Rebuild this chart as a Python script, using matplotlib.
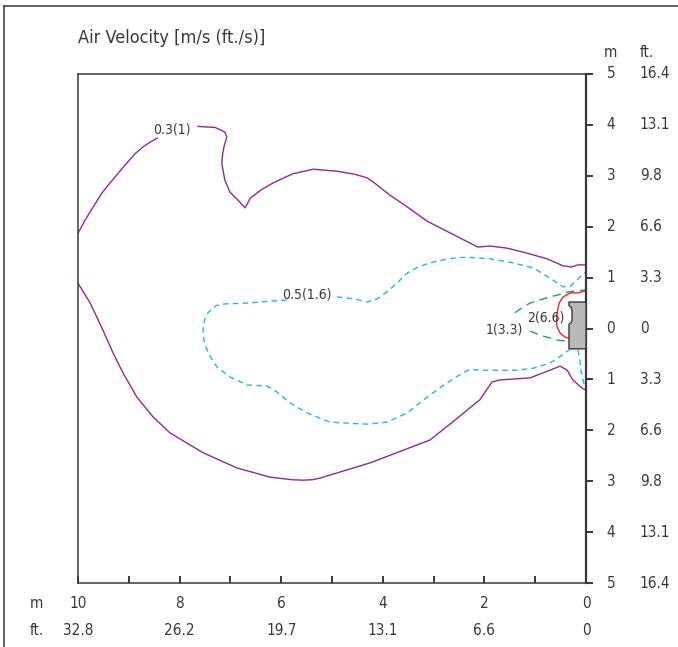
import matplotlib
matplotlib.use("Agg")
import matplotlib.pyplot as plt
from matplotlib.lines import Line2D
from matplotlib.patches import Polygon

plt.rcParams["font.family"] = ["DejaVu Sans"]
plt.rcParams["font.stretch"] = "condensed"

# distance from the unit (m) and height (m)
purple_top_a_x = [10.0, 9.86, 9.70, 9.53, 9.37, 9.21, 9.04, 8.88, 8.72, 8.58, 8.44]
purple_top_a_y = [1.87, 2.13, 2.39, 2.66, 2.86, 3.05, 3.25, 3.43, 3.57, 3.66, 3.74]

purple_top_b_x = [7.64, 7.30, 7.11, 7.07, 7.12, 7.15, 7.17, 7.14, 7.11, 7.01, 6.85, 6.71, 6.61,
                  6.40, 6.16, 5.77, 5.37, 4.90, 4.55, 4.31, 4.19, 3.86, 3.52, 3.13, 2.68, 2.13,
                  1.89, 1.56, 1.16, 0.77, 0.45, 0.28, 0.16, 0.0]
purple_top_b_y = [3.97, 3.95, 3.86, 3.76, 3.60, 3.45, 3.25, 3.08, 2.92, 2.68, 2.52, 2.37, 2.56,
                  2.72, 2.86, 3.04, 3.13, 3.09, 3.03, 2.96, 2.88, 2.62, 2.39, 2.11, 1.88, 1.60,
                  1.62, 1.58, 1.48, 1.37, 1.23, 1.21, 1.25, 1.25]

purple_bottom_x = [10.0, 9.76, 9.51, 9.31, 9.11, 8.84, 8.52, 8.19, 7.54, 6.87, 6.22, 5.80, 5.57,
                   5.38, 5.24, 4.25, 3.07, 2.58, 2.09, 1.85, 1.69, 1.10, 0.71, 0.51, 0.37, 0.26,
                   0.08, 0.0]
purple_bottom_y = [0.89, 0.50, -0.03, -0.48, -0.88, -1.35, -1.74, -2.05, -2.44, -2.74, -2.92,
                   -2.97, -2.98, -2.97, -2.94, -2.64, -2.19, -1.80, -1.40, -1.05, -1.01, -0.97,
                   -0.82, -0.74, -0.82, -1.01, -1.17, -1.21]

cyan_a_x = [5.89, 6.67, 7.15, 7.28, 7.34, 7.44, 7.50, 7.54, 7.52, 7.46, 7.37, 7.26, 7.01, 6.67,
            6.28, 6.08, 5.83, 5.49, 5.04, 4.31, 3.92, 3.52, 3.13, 2.74, 2.42, 2.28, 2.09, 1.69,
            1.36, 1.04, 0.71, 0.55, 0.33]
cyan_a_y = [0.56, 0.50, 0.48, 0.45, 0.40, 0.31, 0.21, -0.03, -0.24, -0.42, -0.60, -0.76, -0.95,
            -1.11, -1.13, -1.25, -1.46, -1.66, -1.84, -1.88, -1.84, -1.66, -1.35, -1.07, -0.87,
            -0.80, -0.82, -0.82, -0.82, -0.78, -0.68, -0.58, -0.42]

cyan_b_x = [4.90, 4.55, 4.31, 4.11, 3.92, 3.72, 3.52, 3.30, 3.07, 2.80, 2.54, 2.34, 1.89, 1.44,
            1.04, 0.71, 0.45, 0.31, 0.18, 0.08, 0.0]
cyan_b_y = [0.62, 0.58, 0.52, 0.58, 0.72, 0.89, 1.09, 1.21, 1.29, 1.35, 1.39, 1.40, 1.37, 1.29,
            1.19, 0.99, 0.82, 0.83, 0.95, 1.05, 1.11]

cyan_c_x = [0.16, 0.12, 0.10, 0.06, 0.02]
cyan_c_y = [-0.42, -0.62, -0.82, -1.01, -1.15]

green_top_x = [1.40, 1.24, 1.10, 0.91, 0.71, 0.47, 0.35, 0.18, 0.0]
green_top_y = [0.31, 0.42, 0.50, 0.56, 0.62, 0.68, 0.72, 0.74, 0.76]
green_bottom_x = [1.10, 0.91, 0.77, 0.55, 0.37]
green_bottom_y = [-0.05, -0.13, -0.17, -0.23, -0.25]

red_x = [0.0, 0.16, 0.31, 0.45, 0.53, 0.57, 0.58, 0.57, 0.51, 0.41, 0.33]
red_y = [0.74, 0.70, 0.70, 0.62, 0.50, 0.30, 0.16, 0.03, -0.09, -0.17, -0.19]

unit_x = [0.0, 0.335, 0.335, 0.29, 0.275, 0.275, 0.29, 0.335, 0.335, 0.0]
unit_y = [0.52, 0.52, 0.45, 0.41, 0.36, 0.17, 0.12, 0.08, -0.40, -0.40]

contour_labels = ["0.3(1)", "0.5(1.6)", "1(3.3)", "2(6.6)"]
contour_label_x = [8.15, 5.49, 1.61, 0.79]
contour_label_y = [3.90, 0.66, -0.01, 0.21]

y_ticks = [5, 4, 3, 2, 1, 0, -1, -2, -3, -4, -5]
y_labels_m = ["5", "4", "3", "2", "1", "0", "1", "2", "3", "4", "5"]
y_labels_ft = ["16.4", "13.1", "9.8", "6.6", "3.3", "0", "3.3", "6.6", "9.8", "13.1", "16.4"]

x_ticks = [10, 8, 6, 4, 2, 0]
x_minor = [9, 7, 5, 3, 1]
x_labels_m = ["10", "8", "6", "4", "2", "0"]
x_labels_ft = ["32.8", "26.2", "19.7", "13.1", "6.6", "0"]

PURPLE = "#8b2c8f"
CYAN = "#29b3e6"
GREEN = "#23a456"
RED = "#e8262c"
INK = "#383838"

fig = plt.figure(figsize=(6.78, 6.47), dpi=100)
ax = fig.add_axes([78 / 678, 64 / 647, 508 / 678, 509 / 647])

lw = 1.0
ax.plot(purple_top_a_x, purple_top_a_y, color=PURPLE, lw=lw)
ax.plot(purple_top_b_x, purple_top_b_y, color=PURPLE, lw=lw)
ax.plot(purple_bottom_x, purple_bottom_y, color=PURPLE, lw=lw)
for xs, ys in [(cyan_a_x, cyan_a_y), (cyan_b_x, cyan_b_y), (cyan_c_x, cyan_c_y)]:
    ax.plot(xs, ys, color=CYAN, lw=lw, dashes=(4, 3))
for xs, ys in [(green_top_x, green_top_y), (green_bottom_x, green_bottom_y)]:
    ax.plot(xs, ys, color=GREEN, lw=lw, dashes=(6, 4))
ax.plot(red_x, red_y, color=RED, lw=lw)

ax.add_patch(Polygon(list(zip(unit_x, unit_y)), closed=True, facecolor="#b9b9b9",
                     edgecolor=INK, lw=1.0, zorder=3))

for t, x, y in zip(contour_labels, contour_label_x, contour_label_y):
    ax.text(x, y, t, ha="center", va="center", fontsize=10, color=INK)

ax.set_xlim(10, 0)
ax.set_ylim(-5, 5)

for side in ["left", "top", "bottom"]:
    ax.spines[side].set_linewidth(1.1)
    ax.spines[side].set_color(INK)
ax.spines["right"].set_linewidth(1.6)
ax.spines["right"].set_color(INK)

# right axis: ticks outward, labels drawn as two text columns
ax.yaxis.tick_right()
ax.set_yticks(y_ticks)
ax.set_yticklabels([])
ax.tick_params(axis="y", direction="out", length=5, width=1.4, color=INK)
ytr = ax.get_yaxis_transform()
for y, lm, lf in zip(y_ticks, y_labels_m, y_labels_ft):
    ax.text(1.049, y, lm, transform=ytr, ha="center", va="center", fontsize=11, color=INK)
    ax.text(1.106, y, lf, transform=ytr, ha="left", va="center", fontsize=11, color=INK)
ax.text(1.049, 1.043, "m", transform=ax.transAxes, ha="center", va="center", fontsize=11, color=INK)
ax.text(1.106, 1.043, "ft.", transform=ax.transAxes, ha="left", va="center", fontsize=11, color=INK)

# bottom axis: ticks inward every metre, labels every 2 m
ax.set_xticks(x_ticks)
ax.set_xticks(x_minor, minor=True)
ax.set_xticklabels([])
ax.tick_params(axis="x", which="both", direction="in", length=5, width=1.4, color=INK)
xtr = ax.get_xaxis_transform()
for x, lm, lf in zip(x_ticks, x_labels_m, x_labels_ft):
    ax.text(x, -0.041, lm, transform=xtr, ha="center", va="center", fontsize=11, color=INK)
    ax.text(x, -0.093, lf, transform=xtr, ha="center", va="center", fontsize=11, color=INK)
ax.text(-0.081, -0.041, "m", transform=ax.transAxes, ha="center", va="center", fontsize=11, color=INK)
ax.text(-0.081, -0.093, "ft.", transform=ax.transAxes, ha="center", va="center", fontsize=11, color=INK)

fig.text(78 / 678, 1 - 38 / 647, "Air Velocity [m/s (ft./s)]", ha="left", va="center",
         fontsize=13, color=INK)

# outer frame (top and left edges only)
fig.add_artist(Line2D([4 / 678, 4 / 678], [0, 1 - 6 / 647], color=INK, lw=1.1))
fig.add_artist(Line2D([4 / 678, 1], [1 - 6 / 647, 1 - 6 / 647], color=INK, lw=1.1))

fig.savefig("out.png", dpi=100)
